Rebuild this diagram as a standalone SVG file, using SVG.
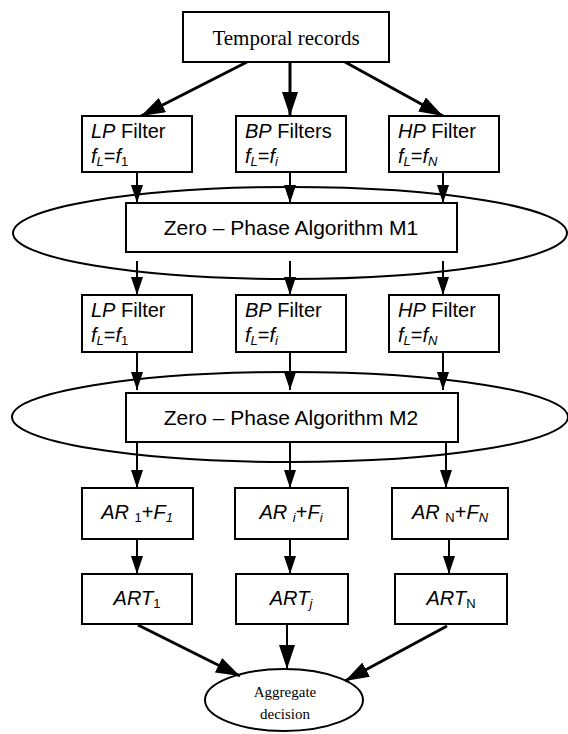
<svg xmlns="http://www.w3.org/2000/svg" width="568" height="734" viewBox="0 0 568 734">
<defs>
<style>
.box{fill:#fff;stroke:#000;stroke-width:2}
.ell{fill:none;stroke:#000;stroke-width:2}
.t{font-family:"Liberation Sans",Arial,sans-serif;font-size:20px;fill:#000}
.z{font-size:21px}
.ts{font-family:"Liberation Serif","Times New Roman",serif;fill:#000}
.it{font-style:italic}
.sub{font-size:13px}
.c{stroke:#000;fill:none}
.thick{stroke-width:3}
.thin{stroke-width:2}
</style>
<marker id="big" markerUnits="userSpaceOnUse" markerWidth="24" markerHeight="16" refX="24" refY="8" orient="auto">
<path d="M0,0 L24,8 L0,16 z" fill="#000"/>
</marker>
<marker id="sm" markerUnits="userSpaceOnUse" markerWidth="18" markerHeight="12" refX="18" refY="6" orient="auto">
<path d="M0,0 L18,6 L0,12 z" fill="#000"/>
</marker>
</defs>
<rect width="568" height="734" fill="#fff"/>

<g id="connectors">
<line class="c thick" x1="247" y1="62" x2="141" y2="116" marker-end="url(#big)"/>
<line class="c thick" x1="290" y1="62" x2="290" y2="116" marker-end="url(#big)"/>
<line class="c thick" x1="345" y1="62" x2="443" y2="116" marker-end="url(#big)"/>
<line class="c thin" x1="137" y1="172" x2="137" y2="203" marker-end="url(#sm)"/>
<line class="c thin" x1="290" y1="172" x2="290" y2="203" marker-end="url(#sm)"/>
<line class="c thin" x1="443" y1="172" x2="443" y2="203" marker-end="url(#sm)"/>
<line class="c thin" x1="137" y1="261" x2="137" y2="295" marker-end="url(#sm)"/>
<line class="c thin" x1="290" y1="261" x2="290" y2="295" marker-end="url(#sm)"/>
<line class="c thin" x1="443" y1="261" x2="443" y2="295" marker-end="url(#sm)"/>
<line class="c thin" x1="137" y1="352" x2="137" y2="390" marker-end="url(#sm)"/>
<line class="c thin" x1="290" y1="352" x2="290" y2="390" marker-end="url(#sm)"/>
<line class="c thin" x1="443" y1="352" x2="443" y2="390" marker-end="url(#sm)"/>
<line class="c thin" x1="137" y1="442" x2="137" y2="488" marker-end="url(#sm)"/>
<line class="c thin" x1="290" y1="442" x2="290" y2="488" marker-end="url(#sm)"/>
<line class="c thin" x1="446" y1="442" x2="446" y2="488" marker-end="url(#sm)"/>
<line class="c thin" x1="137" y1="539" x2="137" y2="574" marker-end="url(#sm)"/>
<line class="c thin" x1="290" y1="539" x2="290" y2="574" marker-end="url(#sm)"/>
<line class="c thin" x1="449" y1="539" x2="449" y2="574" marker-end="url(#sm)"/>
<line class="c thick" x1="138" y1="625" x2="240" y2="676" marker-end="url(#big)"/>
<line class="c thin" x1="287" y1="624" x2="287" y2="669" marker-end="url(#big)"/>
<line class="c thick" x1="447" y1="626" x2="345" y2="681" marker-end="url(#big)"/>
</g>

<g id="temporal">
<rect class="box" x="183" y="12" width="206" height="50"/>
<text class="ts" x="286" y="45" font-size="21" text-anchor="middle">Temporal records</text>
</g>

<g id="lp1">
<rect class="box" x="82" y="116" width="110" height="56"/>
<text class="t" x="91" y="138"><tspan class="it">LP</tspan> Filter</text>
<text class="t" x="91" y="163"><tspan class="it">f</tspan><tspan class="sub it" dy="3">L</tspan><tspan dy="-3">=</tspan><tspan class="it">f</tspan><tspan class="sub" dy="3">1</tspan></text>
</g>
<g id="bp1">
<rect class="box" x="236" y="116" width="110" height="56"/>
<text class="t" x="245" y="138"><tspan class="it">BP</tspan> Filters</text>
<text class="t" x="245" y="163"><tspan class="it">f</tspan><tspan class="sub it" dy="3">L</tspan><tspan dy="-3">=</tspan><tspan class="it">f</tspan><tspan class="sub it" dy="3">i</tspan></text>
</g>
<g id="hp1">
<rect class="box" x="389" y="116" width="110" height="56"/>
<text class="t" x="398" y="138"><tspan class="it">HP</tspan> Filter</text>
<text class="t" x="398" y="163"><tspan class="it">f</tspan><tspan class="sub it" dy="3">L</tspan><tspan dy="-3">=</tspan><tspan class="it">f</tspan><tspan class="sub it" dy="3">N</tspan></text>
</g>

<g id="m1">
<ellipse class="ell" cx="290" cy="233" rx="277" ry="46"/>
<rect class="box" x="126" y="203" width="331" height="49"/>
<text class="t z" x="291" y="235" text-anchor="middle">Zero – Phase Algorithm M1</text>
</g>

<g id="lp2">
<rect class="box" x="82" y="295" width="110" height="57"/>
<text class="t" x="91" y="317"><tspan class="it">LP</tspan> Filter</text>
<text class="t" x="91" y="342"><tspan class="it">f</tspan><tspan class="sub it" dy="3">L</tspan><tspan dy="-3">=</tspan><tspan class="it">f</tspan><tspan class="sub" dy="3">1</tspan></text>
</g>
<g id="bp2">
<rect class="box" x="236" y="295" width="110" height="57"/>
<text class="t" x="245" y="317"><tspan class="it">BP</tspan> Filter</text>
<text class="t" x="245" y="342"><tspan class="it">f</tspan><tspan class="sub it" dy="3">L</tspan><tspan dy="-3">=</tspan><tspan class="it">f</tspan><tspan class="sub it" dy="3">i</tspan></text>
</g>
<g id="hp2">
<rect class="box" x="389" y="295" width="110" height="57"/>
<text class="t" x="398" y="317"><tspan class="it">HP</tspan> Filter</text>
<text class="t" x="398" y="342"><tspan class="it">f</tspan><tspan class="sub it" dy="3">L</tspan><tspan dy="-3">=</tspan><tspan class="it">f</tspan><tspan class="sub it" dy="3">N</tspan></text>
</g>

<g id="m2">
<ellipse class="ell" cx="290" cy="417" rx="278" ry="45"/>
<rect class="box" x="126" y="393" width="332" height="49"/>
<text class="t z" x="291" y="425" text-anchor="middle">Zero – Phase Algorithm M2</text>
</g>

<g id="ar1">
<rect class="box" x="82" y="488" width="111" height="51"/>
<text class="t it" x="137" y="519" font-size="19" text-anchor="middle">AR <tspan class="sub" font-style="normal" dy="3">1</tspan><tspan dy="-3" font-style="normal">+</tspan>F<tspan class="sub" dy="3">1</tspan></text>
</g>
<g id="ari">
<rect class="box" x="235" y="488" width="113" height="51"/>
<text class="t it" x="291" y="519" font-size="19" text-anchor="middle">AR <tspan class="sub" dy="3">i</tspan><tspan dy="-3" font-style="normal">+</tspan>F<tspan class="sub" dy="3">i</tspan></text>
</g>
<g id="arn">
<rect class="box" x="392" y="488" width="116" height="51"/>
<text class="t it" x="450" y="519" font-size="19" text-anchor="middle">AR <tspan class="sub" font-style="normal" dy="3">N</tspan><tspan dy="-3" font-style="normal">+</tspan>F<tspan class="sub" dy="3">N</tspan></text>
</g>

<g id="art1">
<rect class="box" x="82" y="574" width="110" height="50"/>
<text class="t it" x="137" y="605" text-anchor="middle">ART<tspan class="sub" font-style="normal" dy="3">1</tspan></text>
</g>
<g id="artj">
<rect class="box" x="236" y="574" width="112" height="50"/>
<text class="t it" x="291" y="605" text-anchor="middle">ART<tspan class="sub" dy="3">j</tspan></text>
</g>
<g id="artn">
<rect class="box" x="395" y="574" width="112" height="50"/>
<text class="t it" x="451" y="605" text-anchor="middle">ART<tspan class="sub" font-style="normal" dy="3">N</tspan></text>
</g>

<g id="aggregate">
<ellipse class="ell" cx="284" cy="700" rx="79" ry="31"/>
<text class="ts" x="285" y="697" font-size="15" text-anchor="middle">Aggregate</text>
<text class="ts" x="285" y="719" font-size="15" text-anchor="middle">decision</text>
</g>
</svg>
